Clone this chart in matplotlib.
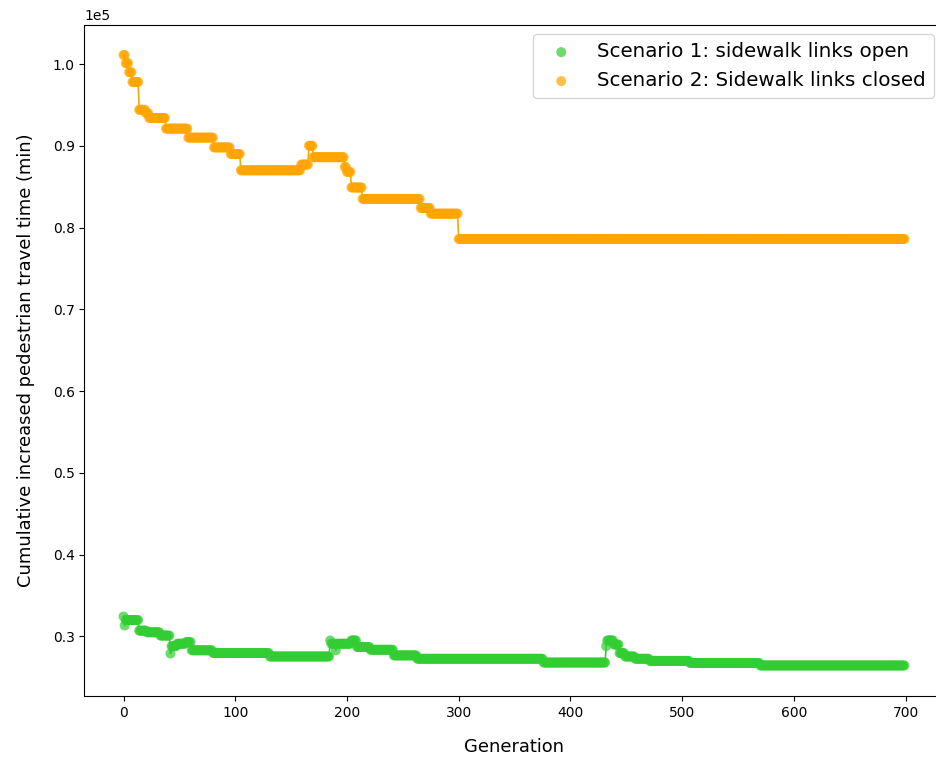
import numpy as np
import matplotlib
matplotlib.use("Agg")
import matplotlib.pyplot as plt

n_generations = 700

# Scenario 1 (sidewalk links open): run start generation and value (min)
open_run_start = [0, 1, 2, 14, 21, 33, 42, 43, 48, 56, 61, 80, 131, 185, 186, 190, 191,
                  204, 209, 221, 242, 263, 376, 432, 433, 439, 444, 449, 458, 471, 507, 570]
open_run_value = [32430, 31330, 32000, 30700, 30500, 30100, 27900, 28800, 29100, 29300,
                  28300, 27960, 27540, 29500, 29100, 28300, 29100, 29500, 28700, 28360,
                  27670, 27260, 26800, 28800, 29500, 29000, 27960, 27540, 27260, 27000,
                  26740, 26440]

# Scenario 2 (sidewalk links closed)
closed_run_start = [0, 2, 5, 8, 14, 20, 23, 38, 58, 81, 96, 105, 159, 166, 170, 198, 200,
                    204, 214, 266, 275, 300]
closed_run_value = [101100, 100100, 99000, 97800, 94400, 94000, 93400, 92100, 91000, 89800,
                    89000, 87000, 87700, 90000, 88600, 87400, 86800, 84900, 83500, 82400,
                    81700, 78600]

label_open = "Scenario 1: sidewalk links open"
label_closed = "Scenario 2: Sidewalk links closed"
color_open = "limegreen"
color_closed = "orange"


def expand(starts, values, n):
    lengths = np.diff(list(starts) + [n])
    return np.repeat(values, lengths)


gens = np.arange(n_generations)
y_open = expand(open_run_start, open_run_value, n_generations)
y_closed = expand(closed_run_start, closed_run_value, n_generations)

fig = plt.figure(figsize=(9.37, 7.59), dpi=100)
ax = fig.add_axes([84.5 / 937, 63 / 759, 859 / 937, 671.5 / 759])

ax.plot(gens, y_open, color=color_open, lw=1.2)
ax.scatter(gens, y_open, color=color_open, alpha=0.7, s=52, label=label_open,
           edgecolors="none")
ax.plot(gens, y_closed, color=color_closed, lw=1.2)
ax.scatter(gens, y_closed, color=color_closed, alpha=0.7, s=52, label=label_closed,
           edgecolors="none")

ax.ticklabel_format(axis="y", style="sci", scilimits=(0, 0))
ax.set_xlabel("Generation", fontsize=12.9, labelpad=13)
ax.set_ylabel("Cumulative increased pedestrian travel time (min)", fontsize=12.9, labelpad=13)
ax.tick_params(labelsize=10)
ax.yaxis.get_offset_text().set_fontsize(10)
ax.legend(loc="upper right", fontsize=14.3)

fig.savefig("out.png", dpi=100)
